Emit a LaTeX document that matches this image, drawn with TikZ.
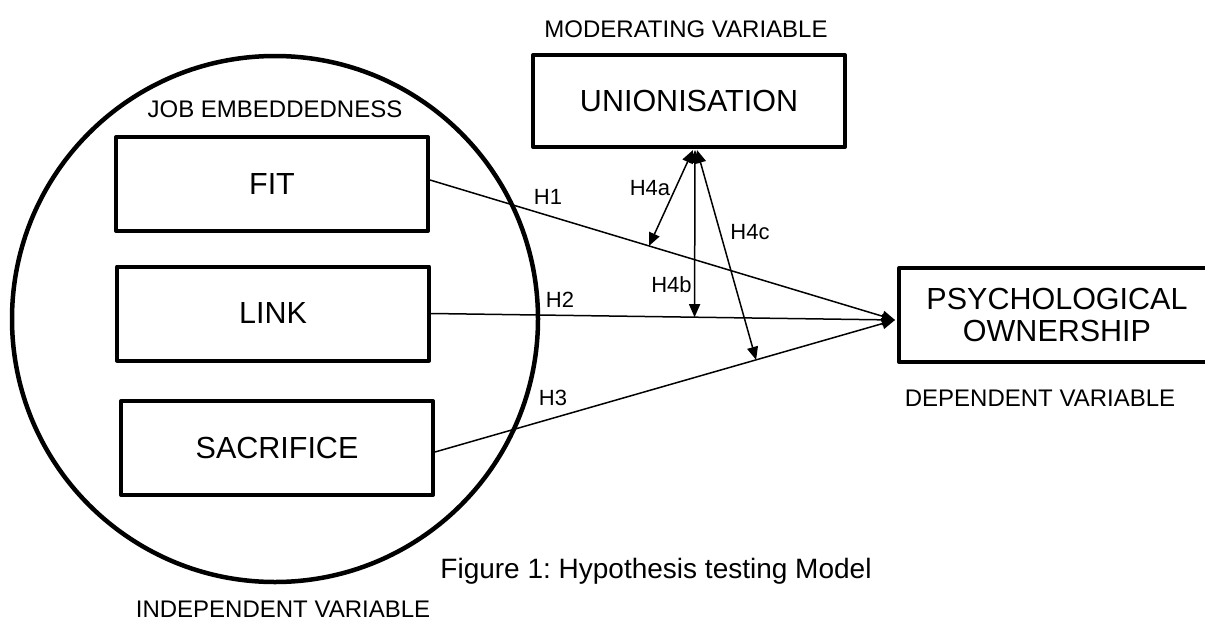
\documentclass[tikz,border=0pt]{standalone}
\usepackage{fontspec}
\setmainfont{Liberation Sans}
\usetikzlibrary{arrows.meta,calc}
\frenchspacing
\begin{document}
\begin{tikzpicture}[x=1pt,y=-1pt,
  box/.style={draw, line width=4pt, line join=round, minimum width=312pt,
    minimum height=94pt, inner sep=0pt, align=center,
    font=\fontsize{30.5}{32}\selectfont},
  caption/.style={anchor=base, inner sep=0pt, font=\fontsize{24}{28}\selectfont},
  hlabel/.style={anchor=base, inner sep=0pt, font=\fontsize{22}{26}\selectfont},
  tip/.tip={Triangle[length=13pt,width=11pt]},
  path/.style={line width=1.5pt, -tip},
  moderation/.style={line width=1.5pt, tip-tip}]
\useasboundingbox (0,0) rectangle (1205,621);

% job embeddedness cluster
\node[circle, draw, line width=4.5pt, minimum size=526pt, inner sep=0pt] (je) at (275,319) {};
\node[caption] (jelabel) at (275,117) {JOB EMBEDDEDNESS};
\node[box] (fit)  at (272,184) {FIT};
\node[box] (link) at (273,313.5) {LINK};
\node[box] (sac)  at (277,448) {SACRIFICE};
\node[caption] (iv) at (283,617) {INDEPENDENT VARIABLE};

% moderator
\node[caption] (mv) at (686,37) {MODERATING VARIABLE};
\node[box, minimum height=92pt] (uni) at (689,101) {UNIONISATION};

% outcome
\node[box, minimum width=316pt] (po) at (1057,315) {PSYCHOLOGICAL\\OWNERSHIP};
\node[caption] (dv) at (1040,406) {DEPENDENT VARIABLE};

% direct paths
\coordinate (fitout) at ([yshift=4pt]fit.east);
\coordinate (linkout) at (link.east);
\coordinate (sacout) at ([yshift=-4pt]sac.east);
\coordinate (poin) at ([xshift=-2pt,yshift=-5pt]po.west);
\draw[path] (fitout) -- (poin);
\draw[path] (linkout) -- (poin);
\draw[path] (sacout) -- (poin);

% moderation arrows
\coordinate (m1) at ($(fitout)!0.471!(poin)$);
\coordinate (m2) at ($(linkout)!0.568!(poin)$);
\coordinate (m3) at ($(sacout)!0.698!(poin)$);
\coordinate (u1) at ([xshift=4pt,yshift=-1pt]uni.south);
\coordinate (u2) at ([xshift=6pt,yshift=-1pt]uni.south);
\coordinate (u3) at ([xshift=8pt,yshift=-1pt]uni.south);
\draw[moderation] (u1) -- (m1);
\draw[moderation] (u2) -- (m2);
\draw[moderation] (u3) -- (m3);

% hypothesis labels
\node[hlabel] (h1) at (548,204) {H1};
\node[hlabel] (h2) at (560,307) {H2};
\node[hlabel] (h3) at (553,405) {H3};
\node[hlabel] (h4a) at (650,195) {H4a};
\node[hlabel] (h4b) at (671.5,292) {H4b};
\node[hlabel] (h4c) at (750,239) {H4c};

\node[anchor=base, inner sep=0pt, font=\fontsize{28}{32}\selectfont] (fig) at (656,578)
  {Figure 1: Hypothesis testing Model};
\end{tikzpicture}
\end{document}
